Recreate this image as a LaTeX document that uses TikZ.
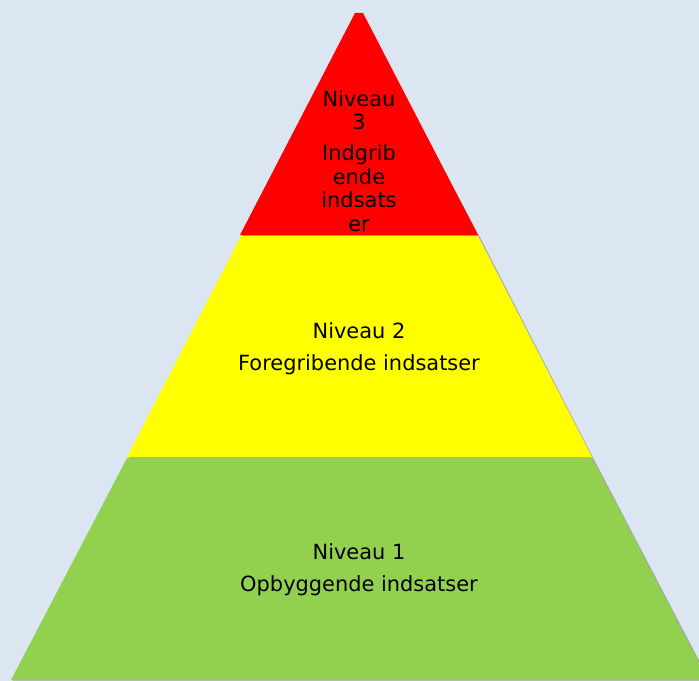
\documentclass[tikz,border=0pt]{standalone}
\usepackage{fontspec}
\setmainfont{DejaVu Sans}
\definecolor{bgblue}{HTML}{DCE6F2}
\definecolor{lvlred}{HTML}{FF0000}
\definecolor{lvlyellow}{HTML}{FFFF00}
\definecolor{lvlgreen}{HTML}{92D050}
\begin{document}
\begin{tikzpicture}[x=1bp,y=-1bp,
  lvltext/.style={align=center,inner sep=0pt,text=black,font=\fontsize{21}{23.5}\selectfont},
  shadowfill/.style={fill=black!35,draw=none}]
\useasboundingbox (0,0) rectangle (699,681);
\fill[bgblue] (0,0) rectangle (699,681);
% shadows
\begin{scope}[shift={(1.5,1.5)}]
\fill[shadowfill] (359,13) -- (478,235) -- (240,235) -- cycle;
\fill[shadowfill] (240,235) -- (478,235) -- (592,457) -- (127,457) -- cycle;
\fill[shadowfill] (127,457) -- (592,457) -- (708,679) -- (11,679) -- cycle;
\end{scope}
% levels
\fill[lvlred] (355,13) -- (363,13) -- (478,235) -- (240,235) -- cycle;
\fill[lvlyellow] (241,236) -- (478,236) -- (592,457) -- (127,457) -- cycle;
\fill[lvlgreen] (127,458) -- (592,458) -- (708,680) -- (11,680) -- cycle;
% texts
\node[lvltext] (n3) at (359,161) {Niveau\\3\\[7.5bp]Indgrib\\ende\\indsats\\er};
\node[lvltext] (n2) at (359,349) {Niveau 2\\[8.5bp]Foregribende indsatser};
\node[lvltext] (n1) at (359,570) {Niveau 1\\[8.5bp]Opbyggende indsatser};
\end{tikzpicture}
\end{document}
